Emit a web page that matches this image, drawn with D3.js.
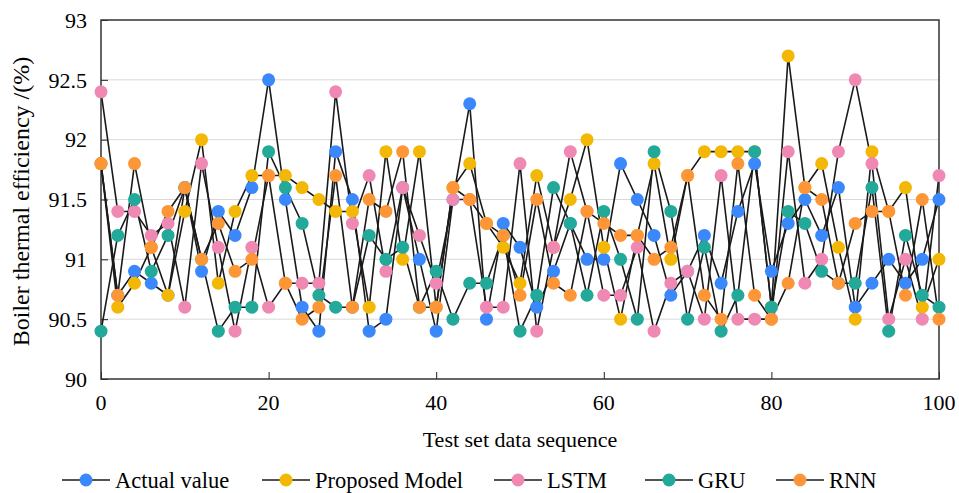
<!DOCTYPE html>
<html>
<head>
<meta charset="utf-8">
<script src="https://cdn.jsdelivr.net/npm/d3@7"></script>
<style>
  body { margin: 0; background: #fff; }
  text { font-family: "Liberation Serif", "Times New Roman", serif; fill: #000; }
</style>
</head>
<body>
<div id="chart"></div>
<script>
// x positions: 0,2,...,100
const xs = d3.range(0, 101, 2);
const actual   = [91.8,90.7,90.9,90.8,90.7,91.6,90.9,91.4,91.2,91.6,92.5,91.5,90.6,90.4,91.9,91.5,90.4,90.5,91.6,91.0,90.4,91.5,92.3,90.5,91.3,91.1,90.6,90.9,91.3,91.0,91.0,91.8,91.5,91.2,90.7,90.9,91.2,90.8,91.4,91.8,90.9,91.3,91.5,91.2,91.6,90.6,90.8,91.0,90.8,91.0,91.5];
const proposed = [91.8,90.6,90.8,91.1,90.7,91.4,92.0,90.8,91.4,91.7,91.7,91.7,91.6,91.5,91.4,91.4,90.6,91.9,91.0,91.9,90.6,91.6,91.8,91.3,91.1,90.8,91.7,91.1,91.5,92.0,91.1,90.5,91.2,91.8,91.0,91.7,91.9,91.9,91.9,91.9,90.6,92.7,91.6,91.8,91.1,90.5,91.9,91.4,91.6,90.6,91.0];
const lstm     = [92.4,91.4,91.4,91.2,91.3,90.6,91.8,91.1,90.4,91.1,90.6,90.8,90.8,90.8,92.4,91.3,91.7,90.9,91.6,91.2,90.8,91.5,91.5,90.6,90.6,91.8,90.4,91.1,91.9,91.4,90.7,90.7,91.1,90.4,90.8,90.9,90.5,91.7,90.5,90.5,90.5,91.9,90.8,91.0,91.9,92.5,91.8,90.5,91.0,90.5,91.7];
const gru      = [90.4,91.2,91.5,90.9,91.2,91.6,91.0,90.4,90.6,90.6,91.9,91.6,91.3,90.7,90.6,90.6,91.2,91.0,91.1,90.6,90.9,90.5,90.8,90.8,91.2,90.4,90.7,91.6,91.3,90.7,91.4,91.0,90.5,91.9,91.4,90.5,91.1,90.4,90.7,91.9,90.6,91.4,91.3,90.9,90.8,90.8,91.6,90.4,91.2,90.7,90.6];
const rnn      = [91.8,90.7,91.8,91.1,91.4,91.6,91.0,91.3,90.9,91.0,91.7,90.8,90.5,90.6,91.7,90.6,91.5,91.4,91.9,90.6,90.6,91.6,91.5,91.3,91.2,90.7,91.5,90.8,90.7,91.4,91.3,91.2,91.2,91.0,91.1,91.7,90.7,90.5,91.8,90.7,90.5,90.8,91.6,91.5,90.8,91.3,91.4,91.4,90.7,91.5,90.5];

const series = [
  { name: "Actual value",   values: actual,   color: "#3a88fb" },
  { name: "Proposed Model", values: proposed, color: "#f3b805" },
  { name: "LSTM",           values: lstm,     color: "#ef89b4" },
  { name: "GRU",            values: gru,      color: "#22a99a" },
  { name: "RNN",            values: rnn,      color: "#fd9636" }
];
const yTicks = [90, 90.5, 91, 91.5, 92, 92.5, 93];
const xTicks = [0, 20, 40, 60, 80, 100];

const width = 959, height = 493;
const margin = { top: 20, right: 20, bottom: 114, left: 101 };
const iw = width - margin.left - margin.right;
const ih = height - margin.top - margin.bottom;

const svg = d3.select("#chart").append("svg")
  .attr("width", width)
  .attr("height", height);

const x = d3.scaleLinear().domain([0, 100]).range([margin.left, margin.left + iw]);
const y = d3.scaleLinear().domain([90, 93]).range([margin.top + ih, margin.top]);

// gridlines
svg.append("g")
  .selectAll("line")
  .data(yTicks.slice(1, -1))
  .join("line")
  .attr("x1", margin.left).attr("x2", margin.left + iw)
  .attr("y1", d => y(d)).attr("y2", d => y(d))
  .attr("stroke", "#d9d9d9").attr("stroke-width", 1);

// y axis (inward ticks)
const yAxis = svg.append("g")
  .attr("transform", `translate(${margin.left},0)`)
  .call(d3.axisRight(y).tickValues(yTicks).tickSize(7).tickFormat(""));
yAxis.select(".domain").remove();
yAxis.selectAll("line").attr("stroke", "#222");
svg.append("g")
  .selectAll("text")
  .data(yTicks)
  .join("text")
  .attr("x", margin.left - 14)
  .attr("y", d => y(d))
  .attr("dy", "0.35em")
  .attr("text-anchor", "end")
  .style("font-size", "22px")
  .text(d => d);

// x axis (inward ticks)
const xAxis = svg.append("g")
  .attr("transform", `translate(0,${margin.top + ih})`)
  .call(d3.axisTop(x).tickValues(xTicks).tickSize(7).tickFormat(""));
xAxis.select(".domain").remove();
xAxis.selectAll("line").attr("stroke", "#222");
svg.append("g")
  .selectAll("text")
  .data(xTicks)
  .join("text")
  .attr("x", d => x(d))
  .attr("y", margin.top + ih + 31)
  .attr("text-anchor", "middle")
  .style("font-size", "22px")
  .text(d => d);

// frame
svg.append("rect")
  .attr("x", margin.left).attr("y", margin.top)
  .attr("width", iw).attr("height", ih)
  .attr("fill", "none").attr("stroke", "#333").attr("stroke-width", 1.5);

// lines
const line = d3.line().x((d, i) => x(xs[i])).y(d => y(d));
svg.append("g")
  .selectAll("path")
  .data(series)
  .join("path")
  .attr("d", d => line(d.values))
  .attr("fill", "none")
  .attr("stroke", "#1a1a1a")
  .attr("stroke-width", 1.6);

// markers
series.forEach(s => {
  svg.append("g")
    .selectAll("circle")
    .data(s.values)
    .join("circle")
    .attr("cx", (d, i) => x(xs[i]))
    .attr("cy", d => y(d))
    .attr("r", 6.5)
    .attr("fill", s.color);
});

// axis titles
svg.append("text")
  .attr("x", (margin.left + margin.left + iw) / 2)
  .attr("y", 447)
  .attr("text-anchor", "middle")
  .style("font-size", "22px")
  .text("Test set data sequence");

svg.append("text")
  .attr("transform", `translate(29,${margin.top + ih / 2 + 2}) rotate(-90)`)
  .attr("text-anchor", "middle")
  .style("font-size", "24px")
  .text("Boiler thermal efficiency /(%)");

// legend
const legendX = [62, 262, 494, 645, 776];
const legend = svg.append("g");
series.forEach((s, i) => {
  const g = legend.append("g").attr("transform", `translate(${legendX[i]},480)`);
  g.append("line").attr("x1", 0).attr("x2", 48).attr("stroke", "#1a1a1a").attr("stroke-width", 1.6);
  g.append("circle").attr("cx", 24).attr("r", 6.5).attr("fill", s.color);
  g.append("text").attr("x", 53).attr("dy", "0.35em").style("font-size", "22.5px").text(s.name);
});
</script>
</body>
</html>
